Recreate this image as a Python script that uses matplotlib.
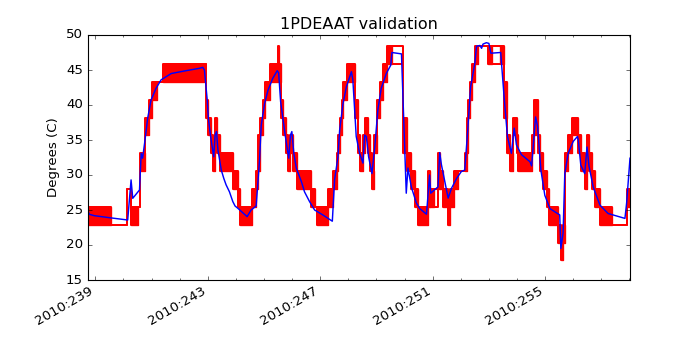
import numpy as np
import matplotlib
matplotlib.use('Agg')
import matplotlib.pyplot as plt
from matplotlib.ticker import FuncFormatter, MultipleLocator

plt.style.use('classic')

# telemetry (red): quantized steps; where lo != hi the value flips between the two levels
red_t = [238.72, 239.57, 240.14, 240.25, 240.50, 240.57, 240.78, 240.92, 241.03, 241.21,
         241.39, 242.85, 242.95, 243.02, 243.10, 243.17, 243.27, 243.34, 243.42, 243.91,
         244.06, 244.16, 244.56, 244.73, 244.77, 244.84, 244.95, 245.05, 245.20, 245.48,
         245.55, 245.59, 245.66, 245.77, 245.84, 245.91, 246.02, 246.19, 246.66, 246.80,
         246.87, 247.26, 247.44, 247.58, 247.62, 247.69, 247.76, 247.80, 247.94, 248.22,
         248.33, 248.40, 248.51, 248.58, 248.69, 248.76, 248.83, 248.90, 249.01, 249.11,
         249.22, 249.36, 249.54, 249.93, 250.08, 250.22, 250.36, 250.47, 250.82, 250.89,
         251.04, 251.18, 251.25, 251.36, 251.54, 251.61, 251.75, 251.89, 252.14, 252.21,
         252.25, 252.32, 252.39, 252.50, 252.60, 252.96, 253.10, 253.39, 253.53, 253.64,
         253.74, 253.85, 253.99, 254.03, 254.53, 254.60, 254.74, 254.81, 254.92, 255.06,
         255.13, 255.45, 255.56, 255.63, 255.70, 255.81, 255.95, 256.17, 256.27, 256.41,
         256.49, 256.56, 256.66, 256.77, 256.95, 257.38, 257.91]
red_end = 258.02
red_lo = [22.9, 22.9, 28.0, 22.9, 25.45, 30.55, 35.65, 38.2, 40.75, 43.3,
          43.3, 45.85, 38.2, 35.65, 33.1, 30.55, 35.65, 33.1, 30.55, 28.0,
          25.45, 22.9, 25.45, 28.0, 30.55, 35.65, 38.2, 40.75, 43.3, 45.85,
          43.3, 38.2, 35.65, 33.1, 30.55, 33.1, 30.55, 28.0, 25.45, 25.45,
          22.9, 25.45, 28.0, 30.55, 33.1, 35.65, 38.2, 40.75, 43.3, 38.2,
          33.1, 30.55, 33.1, 35.65, 33.1, 30.55, 28.0, 33.1, 38.2, 40.75,
          43.3, 45.85, 45.85, 33.1, 30.55, 28.0, 25.45, 22.9, 25.45, 25.45,
          25.45, 28.0, 28.0, 25.45, 22.9, 25.45, 28.0, 30.55, 30.55, 33.1,
          38.2, 40.75, 43.3, 45.85, 48.4, 45.85, 45.85, 45.85, 38.2, 33.1,
          30.55, 35.65, 33.1, 30.55, 33.1, 35.65, 33.1, 30.55, 28.0, 25.45,
          22.9, 20.35, 17.8, 20.35, 30.55, 33.1, 35.65, 33.1, 30.55, 28.0,
          33.1, 30.55, 28.0, 25.45, 22.9, 22.9, 25.45]
red_hi = [25.45, 22.9, 28.0, 25.45, 25.45, 33.1, 38.2, 40.75, 43.3, 43.3,
          45.85, 45.85, 40.75, 38.2, 35.65, 33.1, 38.2, 35.65, 33.1, 30.55,
          28.0, 25.45, 28.0, 30.55, 35.65, 38.2, 40.75, 43.3, 45.85, 48.4,
          45.85, 40.75, 38.2, 35.65, 33.1, 35.65, 33.1, 30.55, 28.0, 25.45,
          25.45, 28.0, 30.55, 33.1, 35.65, 38.2, 40.75, 43.3, 45.85, 40.75,
          35.65, 33.1, 35.65, 38.2, 35.65, 33.1, 30.55, 35.65, 40.75, 43.3,
          45.85, 48.4, 48.4, 38.2, 33.1, 30.55, 28.0, 25.45, 30.55, 28.0,
          28.0, 33.1, 30.55, 28.0, 25.45, 28.0, 30.55, 30.55, 33.1, 38.2,
          40.75, 43.3, 45.85, 48.4, 48.4, 48.4, 48.4, 48.4, 43.3, 35.65,
          33.1, 38.2, 35.65, 33.1, 35.65, 40.75, 35.65, 33.1, 30.55, 28.0,
          25.45, 22.9, 20.35, 22.9, 33.1, 35.65, 38.2, 35.65, 33.1, 30.55,
          35.65, 33.1, 30.55, 28.0, 25.45, 22.9, 28.0]
# 0 where the flipping is sparse (shows as an outline, not a solid block)
red_solid = [1, 0, 0, 1, 0, 1, 1, 1, 1, 0,
             1, 0, 1, 1, 1, 1, 1, 1, 1, 1,
             1, 1, 1, 1, 1, 1, 1, 1, 1, 1,
             1, 1, 1, 1, 1, 1, 1, 1, 1, 0,
             1, 1, 1, 1, 1, 1, 1, 1, 1, 1,
             1, 1, 1, 1, 1, 1, 1, 1, 1, 1,
             1, 1, 0, 1, 1, 1, 1, 1, 1, 1,
             0, 1, 1, 1, 1, 1, 1, 0, 1, 1,
             1, 1, 1, 1, 0, 1, 0, 1, 1, 1,
             1, 1, 1, 1, 1, 1, 1, 1, 1, 1,
             1, 1, 1, 1, 1, 1, 1, 1, 1, 1,
             1, 1, 1, 1, 1, 0, 1]

# model (blue)
blue_t = [238.73, 238.79, 238.96, 239.50, 240.15, 240.19, 240.27, 240.33, 240.57, 240.63,
          240.68, 240.75, 240.86, 240.98, 241.16, 241.34, 241.70, 242.17, 242.70, 242.82,
          242.88, 242.98, 243.02, 243.10, 243.21, 243.26, 243.31, 243.36, 243.48, 243.57,
          243.65, 243.71, 243.77, 243.83, 243.89, 243.97, 244.07, 244.25, 244.40, 244.54,
          244.72, 244.84, 244.90, 245.02, 245.14, 245.31, 245.47, 245.52, 245.59, 245.67,
          245.76, 245.88, 245.94, 245.99, 246.06, 246.15, 246.33, 246.44, 246.62, 246.80,
          247.09, 247.43, 247.51, 247.63, 247.69, 247.81, 247.93, 248.11, 248.16, 248.28,
          248.40, 248.52, 248.58, 248.64, 248.72, 248.84, 248.94, 249.05, 249.17, 249.35,
          249.51, 249.55, 249.89, 250.06, 250.12, 250.24, 250.42, 250.54, 250.78, 250.89,
          250.93, 251.07, 251.19, 251.25, 251.31, 251.55, 251.67, 251.85, 252.02, 252.14,
          252.24, 252.35, 252.50, 252.56, 252.68, 252.74, 252.79, 252.91, 253.00, 253.07,
          253.42, 253.54, 253.66, 253.80, 253.90, 253.98, 254.16, 254.46, 254.52, 254.66,
          254.73, 254.85, 254.99, 255.17, 255.52, 255.56, 255.64, 255.70, 255.82, 256.00,
          256.15, 256.18, 256.27, 256.41, 256.49, 256.56, 256.71, 256.95, 257.24, 257.84,
          257.90, 258.02]
blue_v = [24.86, 24.38, 24.19, 23.9, 23.57, 25.5, 29.3, 26.67, 27.86, 33.1,
          32.4, 34.5, 38.1, 40.7, 42.4, 43.6, 44.5, 44.86, 45.24, 45.38,
          45.0, 40.7, 38.1, 35.5, 32.6, 35.7, 36.2, 33.6, 30.7, 29.5,
          28.6, 28.1, 27.6, 26.9, 26.2, 25.57, 25.24, 24.6, 24.05, 25.0,
          25.57, 32.1, 37.1, 40.2, 42.1, 43.8, 44.9, 44.6, 40.5, 38.1,
          35.5, 32.4, 35.7, 36.2, 33.1, 30.95, 29.05, 27.6, 26.2, 25.0,
          24.3, 23.4, 29.3, 32.6, 36.4, 40.2, 42.6, 44.76, 43.6, 35.5,
          33.1, 31.7, 35.7, 35.5, 32.6, 30.2, 34.0, 39.3, 42.4, 44.5,
          45.7, 47.5, 47.3, 27.4, 31.0, 28.3, 26.0, 25.2, 24.4, 30.0,
          27.4, 27.9, 28.3, 33.2, 31.5, 26.7, 28.1, 29.5, 30.5, 30.7,
          36.0, 42.6, 45.95, 48.4, 48.5, 48.1, 48.7, 48.9, 48.8, 47.4,
          47.5, 41.2, 35.5, 33.1, 36.7, 34.3, 32.9, 31.9, 31.3, 38.3,
          37.0, 30.7, 27.1, 25.2, 24.3, 19.5, 21.7, 30.2, 33.1, 34.8,
          35.5, 35.0, 31.4, 30.2, 34.0, 31.3, 28.3, 25.7, 24.5, 23.8,
          26.0, 32.4]

fig = plt.figure(figsize=(8.75, 4.375), dpi=80)
ax = fig.add_subplot(111)

t = np.array(red_t + [red_end])
lo = np.array(red_lo + [red_lo[-1]])
hi = np.array(red_hi + [red_hi[-1]])
ax.plot(t, lo, 'r-', drawstyle='steps-post', lw=1.8)
ax.plot(t, hi, 'r-', drawstyle='steps-post', lw=1.8)
for i in range(len(red_t)):
    if red_solid[i] and red_hi[i] > red_lo[i]:
        ax.fill_between([t[i], t[i + 1]], [red_lo[i]] * 2, [red_hi[i]] * 2,
                        facecolor='r', edgecolor='r', lw=1.2)

ax.plot(blue_t, blue_v, 'b-', lw=1.3)

ax.set_xlim(238.72, 258.02)
ax.set_ylim(15, 50)
ax.set_xticks([239, 243, 247, 251, 255])
ax.xaxis.set_minor_locator(MultipleLocator(1))
ax.xaxis.set_major_formatter(FuncFormatter(lambda x, pos: '2010:%03d' % int(round(x))))
ax.set_ylabel('Degrees (C)')
ax.set_title('1PDEAAT validation')
fig.autofmt_xdate()

fig.savefig('out.png', dpi=80)
